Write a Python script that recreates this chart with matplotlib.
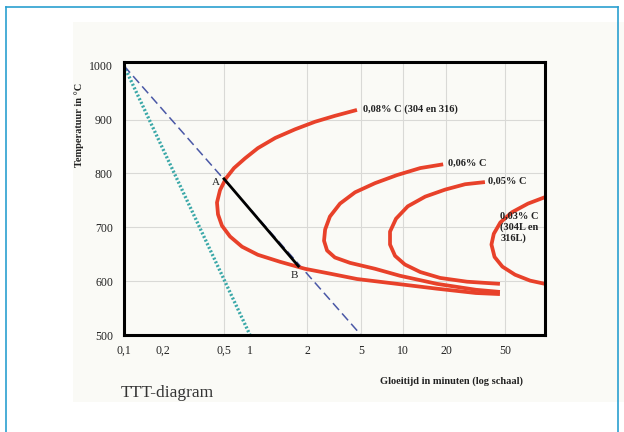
"""TTT-diagram: sensitisation curves for austenitic stainless steel (304/316)."""

import matplotlib

matplotlib.use("Agg")
import matplotlib.pyplot as plt
import numpy as np
from matplotlib.lines import Line2D

# --- data (time in minutes, temperature in degC) --------------------------
tick_values = [0.1, 0.2, 0.5, 1, 2, 5, 10, 20, 50]
tick_labels = ["0,1", "0,2", "0,5", "1", "2", "5", "10", "20", "50"]
grid_x = [0.5, 2, 5, 10, 20, 50]
grid_y = [600, 700, 800, 900]
y_ticks = [500, 600, 700, 800, 900, 1000]

c08_t = [4.67, 3.21, 2.29, 1.73, 1.36, 1.10, 0.875, 0.653, 0.527, 0.471, 0.450, 0.457,
         0.485, 0.587, 0.808, 1.10, 1.44, 1.95, 2.95, 4.67, 9.06, 17.3, 31.8, 46.2]
c08_T = [918, 907, 896, 882, 866, 847, 828, 810, 791, 769, 746, 724,
         703, 683, 664, 649, 636, 623, 614, 604, 595, 586, 578, 576]

c06_t = [19.1, 13.2, 9.06, 6.30, 4.52, 3.50, 2.95, 2.72, 2.67, 2.81, 3.21, 4.15,
         6.30, 9.52, 17.3, 31.8, 46.2]
c06_T = [817, 810, 797, 782, 765, 744, 720, 696, 675, 657, 644, 634,
         623, 610, 595, 584, 580]

c05_t = [36.6, 26.9, 19.7, 14.3, 10.8, 8.91, 8.07, 8.07, 8.77, 10.3, 13.2, 18.2, 27.7, 46.2]
c05_T = [784, 780, 770, 757, 739, 716, 692, 668, 647, 631, 617, 606, 599, 595]

c03_t = [110, 93, 71.4, 55.7, 46.5, 42.0, 40.5, 42.5, 48.0, 58.4, 73.8, 93, 110]
c03_T = [763, 756, 744, 728, 709, 688, 668, 645, 627, 612, 601, 595, 593]

cool_fast_t = [0.1, 1]      # dotted line
cool_fast_T = [1000, 500]
cool_slow_t = [0.1, 5]      # dashed line
cool_slow_T = [1000, 500]
seg_ab_t = [0.5, 1.8]       # A -> B
seg_ab_T = [790, 628]

# --- axis scale: the printed diagram has uneven decade spacing ------------
_LOG_KNOTS = [-3, -1, -0.699, -0.301, 0, 0.301, 0.699, 1, 1.301, 1.699, 3]
_POS_KNOTS = [-135, 124, 163, 224, 250, 307, 361, 403, 446, 505, 698]


def _fwd(x):
    x = np.clip(np.asarray(x, dtype=float), 1e-6, None)
    return np.interp(np.log10(x), _LOG_KNOTS, _POS_KNOTS)


def _inv(p):
    return 10 ** np.interp(np.asarray(p, dtype=float), _POS_KNOTS, _LOG_KNOTS)


SERIF = ["Liberation Serif", "DejaVu Serif"]
RED = "#e8412a"

fig = plt.figure(figsize=(6.24, 4.32), dpi=100)
fig.patch.set_facecolor("white")

# cream panel and blue frame
fig.patches.append(plt.Rectangle((0.117, 0.0694), 0.883, 0.8796, transform=fig.transFigure,
                                 facecolor="#fafaf6", edgecolor="none", zorder=-5))
frame_kw = dict(transform=fig.transFigure, color="#2a9fd0", lw=1.2, zorder=-4)
fig.lines.append(Line2D([0.009, 0.009], [0.0, 0.984], **frame_kw))
fig.lines.append(Line2D([0.009, 0.991], [0.984, 0.984], **frame_kw))
fig.lines.append(Line2D([0.991, 0.991], [0.0, 0.984], **frame_kw))

ax = fig.add_axes([0.1987, 0.2245, 0.6747, 0.632])
ax.set_zorder(2)
ax.set_facecolor("#fafaf6")
ax.set_xscale("function", functions=(_fwd, _inv))
ax.set_xlim(0.1, 93)
ax.set_ylim(500, 1007)

for gx in grid_x:
    ax.axvline(gx, color="#d9d9d6", lw=0.8, zorder=1)
for gy in grid_y:
    ax.axhline(gy, color="#d9d9d6", lw=0.8, zorder=1)

ax.plot(cool_fast_t, cool_fast_T, color="#3aa8a8", lw=2.4, ls=(0, (0.6, 0.6)), zorder=2)
ax.plot(cool_slow_t, cool_slow_T, color="#4a58a6", lw=1.1, ls=(0, (6, 3)), zorder=2)

curve_kw = dict(color=RED, lw=2.7, solid_capstyle="butt", solid_joinstyle="round", zorder=3)
ax.plot(c08_t, c08_T, **curve_kw)
ax.plot(c06_t, c06_T, **curve_kw)
ax.plot(c05_t, c05_T, **curve_kw)
ax.plot(c03_t, c03_T, **curve_kw)

ax.plot(seg_ab_t, seg_ab_T, color="black", lw=2.0, zorder=4)

ax.set_xticks(tick_values)
ax.set_xticklabels(tick_labels)
ax.set_yticks(y_ticks)
ax.minorticks_off()
ax.tick_params(length=0, pad=8, labelsize=8.5)
for lbl in ax.get_xticklabels() + ax.get_yticklabels():
    lbl.set_family(SERIF)
    lbl.set_color("#222222")
ax.tick_params(axis="x", pad=7)

for sp in ax.spines.values():
    sp.set_linewidth(2.2)
    sp.set_color("black")
    sp.set_zorder(5)

lab_kw = dict(family=SERIF, fontsize=7.5, fontweight="bold", color="#222222", va="center")
ax.text(5.2, 920, "0,08% C (304 en 316)", **lab_kw)
ax.text(20.5, 819, "0,06% C", **lab_kw)
ax.text(38.5, 786, "0,05% C", **lab_kw)
ax.text(46.5, 700, "0,03% C\n(304L en\n316L)", linespacing=1.15, clip_on=True, **lab_kw)

ax.text(0.44, 784, "A", family=SERIF, fontsize=8, color="#222222", ha="center", va="center")
ax.text(1.72, 610, "B", family=SERIF, fontsize=8, color="#222222", ha="center", va="center")

fig.text(0.127, 0.71, "Temperatuur in \u00b0C", family=SERIF, fontsize=7.5, fontweight="bold",
         rotation=90, ha="center", va="center", color="#222222")
fig.text(0.723, 0.118, "Gloeitijd in minuten (log schaal)", family=SERIF, fontsize=7.5,
         fontweight="bold", ha="center", va="center", color="#222222")
fig.text(0.194, 0.09, "TTT-diagram", family=SERIF, fontsize=12.5, ha="left", va="center",
         color="#333333")

fig.savefig("out.png", dpi=100, facecolor=fig.get_facecolor())
